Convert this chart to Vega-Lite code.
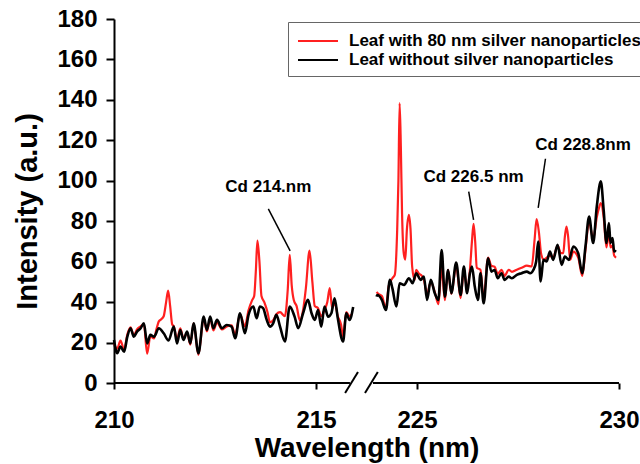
{
  "$schema": "https://vega.github.io/schema/vega-lite/v6.json",
  "width": 505,
  "height": 364,
  "autosize": {"type": "none"},
  "padding": {"left": 114, "top": 19, "right": 21, "bottom": 81},
  "background": "white",
  "config": {
    "view": {"stroke": null},
    "axis": {"grid": false, "labelFont": "Liberation Sans", "labelFontSize": 24, "labelFontWeight": "bold", "labelColor": "#000", "titleFont": "Liberation Sans", "titleFontWeight": "bold", "titleColor": "#000", "domainColor": "#000", "tickColor": "#000", "domainWidth": 2, "tickWidth": 2}
  },
  "datasets": {
    "spectra": [
      {"w": 210.00, "i": 19.5, "s": "Leaf with 80 nm silver nanoparticles", "part": "L"},
      {"w": 210.08, "i": 17.0, "s": "Leaf with 80 nm silver nanoparticles", "part": "L"},
      {"w": 210.16, "i": 21.0, "s": "Leaf with 80 nm silver nanoparticles", "part": "L"},
      {"w": 210.25, "i": 16.5, "s": "Leaf with 80 nm silver nanoparticles", "part": "L"},
      {"w": 210.33, "i": 24.0, "s": "Leaf with 80 nm silver nanoparticles", "part": "L"},
      {"w": 210.41, "i": 27.5, "s": "Leaf with 80 nm silver nanoparticles", "part": "L"},
      {"w": 210.49, "i": 23.5, "s": "Leaf with 80 nm silver nanoparticles", "part": "L"},
      {"w": 210.57, "i": 26.5, "s": "Leaf with 80 nm silver nanoparticles", "part": "L"},
      {"w": 210.66, "i": 28.0, "s": "Leaf with 80 nm silver nanoparticles", "part": "L"},
      {"w": 210.74, "i": 29.0, "s": "Leaf with 80 nm silver nanoparticles", "part": "L"},
      {"w": 210.82, "i": 14.5, "s": "Leaf with 80 nm silver nanoparticles", "part": "L"},
      {"w": 210.90, "i": 23.0, "s": "Leaf with 80 nm silver nanoparticles", "part": "L"},
      {"w": 210.99, "i": 22.0, "s": "Leaf with 80 nm silver nanoparticles", "part": "L"},
      {"w": 211.05, "i": 26.5, "s": "Leaf with 80 nm silver nanoparticles", "part": "L"},
      {"w": 211.11, "i": 30.5, "s": "Leaf with 80 nm silver nanoparticles", "part": "L"},
      {"w": 211.17, "i": 31.5, "s": "Leaf with 80 nm silver nanoparticles", "part": "L"},
      {"w": 211.23, "i": 33.0, "s": "Leaf with 80 nm silver nanoparticles", "part": "L"},
      {"w": 211.29, "i": 40.0, "s": "Leaf with 80 nm silver nanoparticles", "part": "L"},
      {"w": 211.34, "i": 45.7, "s": "Leaf with 80 nm silver nanoparticles", "part": "L"},
      {"w": 211.39, "i": 38.0, "s": "Leaf with 80 nm silver nanoparticles", "part": "L"},
      {"w": 211.44, "i": 29.0, "s": "Leaf with 80 nm silver nanoparticles", "part": "L"},
      {"w": 211.48, "i": 28.0, "s": "Leaf with 80 nm silver nanoparticles", "part": "L"},
      {"w": 211.56, "i": 21.5, "s": "Leaf with 80 nm silver nanoparticles", "part": "L"},
      {"w": 211.64, "i": 27.0, "s": "Leaf with 80 nm silver nanoparticles", "part": "L"},
      {"w": 211.72, "i": 22.0, "s": "Leaf with 80 nm silver nanoparticles", "part": "L"},
      {"w": 211.81, "i": 25.0, "s": "Leaf with 80 nm silver nanoparticles", "part": "L"},
      {"w": 211.89, "i": 19.0, "s": "Leaf with 80 nm silver nanoparticles", "part": "L"},
      {"w": 211.97, "i": 29.5, "s": "Leaf with 80 nm silver nanoparticles", "part": "L"},
      {"w": 212.09, "i": 14.0, "s": "Leaf with 80 nm silver nanoparticles", "part": "L"},
      {"w": 212.22, "i": 32.0, "s": "Leaf with 80 nm silver nanoparticles", "part": "L"},
      {"w": 212.30, "i": 25.5, "s": "Leaf with 80 nm silver nanoparticles", "part": "L"},
      {"w": 212.38, "i": 32.0, "s": "Leaf with 80 nm silver nanoparticles", "part": "L"},
      {"w": 212.46, "i": 26.0, "s": "Leaf with 80 nm silver nanoparticles", "part": "L"},
      {"w": 212.55, "i": 30.0, "s": "Leaf with 80 nm silver nanoparticles", "part": "L"},
      {"w": 212.67, "i": 26.5, "s": "Leaf with 80 nm silver nanoparticles", "part": "L"},
      {"w": 212.79, "i": 28.0, "s": "Leaf with 80 nm silver nanoparticles", "part": "L"},
      {"w": 212.91, "i": 28.5, "s": "Leaf with 80 nm silver nanoparticles", "part": "L"},
      {"w": 213.00, "i": 24.0, "s": "Leaf with 80 nm silver nanoparticles", "part": "L"},
      {"w": 213.12, "i": 34.0, "s": "Leaf with 80 nm silver nanoparticles", "part": "L"},
      {"w": 213.24, "i": 28.0, "s": "Leaf with 80 nm silver nanoparticles", "part": "L"},
      {"w": 213.33, "i": 36.0, "s": "Leaf with 80 nm silver nanoparticles", "part": "L"},
      {"w": 213.42, "i": 41.0, "s": "Leaf with 80 nm silver nanoparticles", "part": "L"},
      {"w": 213.47, "i": 43.0, "s": "Leaf with 80 nm silver nanoparticles", "part": "L"},
      {"w": 213.51, "i": 55.0, "s": "Leaf with 80 nm silver nanoparticles", "part": "L"},
      {"w": 213.55, "i": 70.4, "s": "Leaf with 80 nm silver nanoparticles", "part": "L"},
      {"w": 213.60, "i": 60.0, "s": "Leaf with 80 nm silver nanoparticles", "part": "L"},
      {"w": 213.65, "i": 43.0, "s": "Leaf with 80 nm silver nanoparticles", "part": "L"},
      {"w": 213.72, "i": 40.0, "s": "Leaf with 80 nm silver nanoparticles", "part": "L"},
      {"w": 213.80, "i": 35.0, "s": "Leaf with 80 nm silver nanoparticles", "part": "L"},
      {"w": 213.86, "i": 30.0, "s": "Leaf with 80 nm silver nanoparticles", "part": "L"},
      {"w": 213.94, "i": 31.0, "s": "Leaf with 80 nm silver nanoparticles", "part": "L"},
      {"w": 214.02, "i": 34.0, "s": "Leaf with 80 nm silver nanoparticles", "part": "L"},
      {"w": 214.11, "i": 35.0, "s": "Leaf with 80 nm silver nanoparticles", "part": "L"},
      {"w": 214.23, "i": 33.0, "s": "Leaf with 80 nm silver nanoparticles", "part": "L"},
      {"w": 214.30, "i": 46.0, "s": "Leaf with 80 nm silver nanoparticles", "part": "L"},
      {"w": 214.35, "i": 63.4, "s": "Leaf with 80 nm silver nanoparticles", "part": "L"},
      {"w": 214.40, "i": 48.0, "s": "Leaf with 80 nm silver nanoparticles", "part": "L"},
      {"w": 214.45, "i": 41.0, "s": "Leaf with 80 nm silver nanoparticles", "part": "L"},
      {"w": 214.52, "i": 38.0, "s": "Leaf with 80 nm silver nanoparticles", "part": "L"},
      {"w": 214.60, "i": 31.0, "s": "Leaf with 80 nm silver nanoparticles", "part": "L"},
      {"w": 214.68, "i": 36.0, "s": "Leaf with 80 nm silver nanoparticles", "part": "L"},
      {"w": 214.75, "i": 47.0, "s": "Leaf with 80 nm silver nanoparticles", "part": "L"},
      {"w": 214.84, "i": 65.5, "s": "Leaf with 80 nm silver nanoparticles", "part": "L"},
      {"w": 214.91, "i": 50.0, "s": "Leaf with 80 nm silver nanoparticles", "part": "L"},
      {"w": 214.97, "i": 38.0, "s": "Leaf with 80 nm silver nanoparticles", "part": "L"},
      {"w": 215.05, "i": 37.0, "s": "Leaf with 80 nm silver nanoparticles", "part": "L"},
      {"w": 215.13, "i": 33.0, "s": "Leaf with 80 nm silver nanoparticles", "part": "L"},
      {"w": 215.21, "i": 36.0, "s": "Leaf with 80 nm silver nanoparticles", "part": "L"},
      {"w": 215.28, "i": 40.0, "s": "Leaf with 80 nm silver nanoparticles", "part": "L"},
      {"w": 215.34, "i": 46.9, "s": "Leaf with 80 nm silver nanoparticles", "part": "L"},
      {"w": 215.40, "i": 37.0, "s": "Leaf with 80 nm silver nanoparticles", "part": "L"},
      {"w": 215.46, "i": 40.0, "s": "Leaf with 80 nm silver nanoparticles", "part": "L"},
      {"w": 215.54, "i": 33.0, "s": "Leaf with 80 nm silver nanoparticles", "part": "L"},
      {"w": 215.62, "i": 29.0, "s": "Leaf with 80 nm silver nanoparticles", "part": "L"},
      {"w": 215.67, "i": 23.0, "s": "Leaf with 80 nm silver nanoparticles", "part": "L"},
      {"w": 215.75, "i": 35.0, "s": "Leaf with 80 nm silver nanoparticles", "part": "L"},
      {"w": 215.83, "i": 33.0, "s": "Leaf with 80 nm silver nanoparticles", "part": "L"},
      {"w": 215.88, "i": 34.0, "s": "Leaf with 80 nm silver nanoparticles", "part": "L"},
      {"w": 223.97, "i": 45.0, "s": "Leaf with 80 nm silver nanoparticles", "part": "R"},
      {"w": 224.05, "i": 44.0, "s": "Leaf with 80 nm silver nanoparticles", "part": "R"},
      {"w": 224.13, "i": 43.0, "s": "Leaf with 80 nm silver nanoparticles", "part": "R"},
      {"w": 224.23, "i": 37.0, "s": "Leaf with 80 nm silver nanoparticles", "part": "R"},
      {"w": 224.30, "i": 48.0, "s": "Leaf with 80 nm silver nanoparticles", "part": "R"},
      {"w": 224.39, "i": 51.8, "s": "Leaf with 80 nm silver nanoparticles", "part": "R"},
      {"w": 224.45, "i": 53.5, "s": "Leaf with 80 nm silver nanoparticles", "part": "R"},
      {"w": 224.51, "i": 76.0, "s": "Leaf with 80 nm silver nanoparticles", "part": "R"},
      {"w": 224.54, "i": 100.0, "s": "Leaf with 80 nm silver nanoparticles", "part": "R"},
      {"w": 224.57, "i": 138.4, "s": "Leaf with 80 nm silver nanoparticles", "part": "R"},
      {"w": 224.60, "i": 117.0, "s": "Leaf with 80 nm silver nanoparticles", "part": "R"},
      {"w": 224.63, "i": 84.0, "s": "Leaf with 80 nm silver nanoparticles", "part": "R"},
      {"w": 224.67, "i": 64.5, "s": "Leaf with 80 nm silver nanoparticles", "part": "R"},
      {"w": 224.71, "i": 61.0, "s": "Leaf with 80 nm silver nanoparticles", "part": "R"},
      {"w": 224.75, "i": 76.0, "s": "Leaf with 80 nm silver nanoparticles", "part": "R"},
      {"w": 224.80, "i": 83.2, "s": "Leaf with 80 nm silver nanoparticles", "part": "R"},
      {"w": 224.84, "i": 76.0, "s": "Leaf with 80 nm silver nanoparticles", "part": "R"},
      {"w": 224.88, "i": 57.6, "s": "Leaf with 80 nm silver nanoparticles", "part": "R"},
      {"w": 224.94, "i": 51.0, "s": "Leaf with 80 nm silver nanoparticles", "part": "R"},
      {"w": 224.98, "i": 56.0, "s": "Leaf with 80 nm silver nanoparticles", "part": "R"},
      {"w": 225.05, "i": 54.0, "s": "Leaf with 80 nm silver nanoparticles", "part": "R"},
      {"w": 225.12, "i": 53.0, "s": "Leaf with 80 nm silver nanoparticles", "part": "R"},
      {"w": 225.17, "i": 51.0, "s": "Leaf with 80 nm silver nanoparticles", "part": "R"},
      {"w": 225.25, "i": 44.0, "s": "Leaf with 80 nm silver nanoparticles", "part": "R"},
      {"w": 225.34, "i": 50.0, "s": "Leaf with 80 nm silver nanoparticles", "part": "R"},
      {"w": 225.44, "i": 45.0, "s": "Leaf with 80 nm silver nanoparticles", "part": "R"},
      {"w": 225.53, "i": 39.0, "s": "Leaf with 80 nm silver nanoparticles", "part": "R"},
      {"w": 225.61, "i": 57.0, "s": "Leaf with 80 nm silver nanoparticles", "part": "R"},
      {"w": 225.69, "i": 41.0, "s": "Leaf with 80 nm silver nanoparticles", "part": "R"},
      {"w": 225.77, "i": 56.0, "s": "Leaf with 80 nm silver nanoparticles", "part": "R"},
      {"w": 225.85, "i": 44.0, "s": "Leaf with 80 nm silver nanoparticles", "part": "R"},
      {"w": 225.97, "i": 58.0, "s": "Leaf with 80 nm silver nanoparticles", "part": "R"},
      {"w": 226.08, "i": 42.0, "s": "Leaf with 80 nm silver nanoparticles", "part": "R"},
      {"w": 226.16, "i": 56.0, "s": "Leaf with 80 nm silver nanoparticles", "part": "R"},
      {"w": 226.24, "i": 47.0, "s": "Leaf with 80 nm silver nanoparticles", "part": "R"},
      {"w": 226.31, "i": 56.0, "s": "Leaf with 80 nm silver nanoparticles", "part": "R"},
      {"w": 226.36, "i": 70.0, "s": "Leaf with 80 nm silver nanoparticles", "part": "R"},
      {"w": 226.40, "i": 78.7, "s": "Leaf with 80 nm silver nanoparticles", "part": "R"},
      {"w": 226.44, "i": 70.0, "s": "Leaf with 80 nm silver nanoparticles", "part": "R"},
      {"w": 226.48, "i": 57.0, "s": "Leaf with 80 nm silver nanoparticles", "part": "R"},
      {"w": 226.57, "i": 56.0, "s": "Leaf with 80 nm silver nanoparticles", "part": "R"},
      {"w": 226.65, "i": 42.0, "s": "Leaf with 80 nm silver nanoparticles", "part": "R"},
      {"w": 226.76, "i": 62.0, "s": "Leaf with 80 nm silver nanoparticles", "part": "R"},
      {"w": 226.84, "i": 58.0, "s": "Leaf with 80 nm silver nanoparticles", "part": "R"},
      {"w": 226.92, "i": 57.5, "s": "Leaf with 80 nm silver nanoparticles", "part": "R"},
      {"w": 227.00, "i": 54.0, "s": "Leaf with 80 nm silver nanoparticles", "part": "R"},
      {"w": 227.09, "i": 56.0, "s": "Leaf with 80 nm silver nanoparticles", "part": "R"},
      {"w": 227.17, "i": 53.0, "s": "Leaf with 80 nm silver nanoparticles", "part": "R"},
      {"w": 227.27, "i": 56.0, "s": "Leaf with 80 nm silver nanoparticles", "part": "R"},
      {"w": 227.35, "i": 55.0, "s": "Leaf with 80 nm silver nanoparticles", "part": "R"},
      {"w": 227.47, "i": 56.0, "s": "Leaf with 80 nm silver nanoparticles", "part": "R"},
      {"w": 227.59, "i": 57.0, "s": "Leaf with 80 nm silver nanoparticles", "part": "R"},
      {"w": 227.72, "i": 58.0, "s": "Leaf with 80 nm silver nanoparticles", "part": "R"},
      {"w": 227.84, "i": 57.6, "s": "Leaf with 80 nm silver nanoparticles", "part": "R"},
      {"w": 227.91, "i": 70.8, "s": "Leaf with 80 nm silver nanoparticles", "part": "R"},
      {"w": 227.96, "i": 81.0, "s": "Leaf with 80 nm silver nanoparticles", "part": "R"},
      {"w": 228.02, "i": 74.1, "s": "Leaf with 80 nm silver nanoparticles", "part": "R"},
      {"w": 228.07, "i": 64.2, "s": "Leaf with 80 nm silver nanoparticles", "part": "R"},
      {"w": 228.14, "i": 60.9, "s": "Leaf with 80 nm silver nanoparticles", "part": "R"},
      {"w": 228.21, "i": 62.0, "s": "Leaf with 80 nm silver nanoparticles", "part": "R"},
      {"w": 228.29, "i": 63.0, "s": "Leaf with 80 nm silver nanoparticles", "part": "R"},
      {"w": 228.37, "i": 62.0, "s": "Leaf with 80 nm silver nanoparticles", "part": "R"},
      {"w": 228.48, "i": 68.0, "s": "Leaf with 80 nm silver nanoparticles", "part": "R"},
      {"w": 228.56, "i": 64.2, "s": "Leaf with 80 nm silver nanoparticles", "part": "R"},
      {"w": 228.62, "i": 64.2, "s": "Leaf with 80 nm silver nanoparticles", "part": "R"},
      {"w": 228.66, "i": 72.4, "s": "Leaf with 80 nm silver nanoparticles", "part": "R"},
      {"w": 228.70, "i": 77.4, "s": "Leaf with 80 nm silver nanoparticles", "part": "R"},
      {"w": 228.74, "i": 72.5, "s": "Leaf with 80 nm silver nanoparticles", "part": "R"},
      {"w": 228.79, "i": 61.0, "s": "Leaf with 80 nm silver nanoparticles", "part": "R"},
      {"w": 228.87, "i": 65.0, "s": "Leaf with 80 nm silver nanoparticles", "part": "R"},
      {"w": 228.99, "i": 62.0, "s": "Leaf with 80 nm silver nanoparticles", "part": "R"},
      {"w": 229.09, "i": 53.0, "s": "Leaf with 80 nm silver nanoparticles", "part": "R"},
      {"w": 229.17, "i": 66.0, "s": "Leaf with 80 nm silver nanoparticles", "part": "R"},
      {"w": 229.26, "i": 80.0, "s": "Leaf with 80 nm silver nanoparticles", "part": "R"},
      {"w": 229.36, "i": 71.0, "s": "Leaf with 80 nm silver nanoparticles", "part": "R"},
      {"w": 229.45, "i": 82.0, "s": "Leaf with 80 nm silver nanoparticles", "part": "R"},
      {"w": 229.51, "i": 87.0, "s": "Leaf with 80 nm silver nanoparticles", "part": "R"},
      {"w": 229.55, "i": 89.0, "s": "Leaf with 80 nm silver nanoparticles", "part": "R"},
      {"w": 229.62, "i": 82.0, "s": "Leaf with 80 nm silver nanoparticles", "part": "R"},
      {"w": 229.69, "i": 67.0, "s": "Leaf with 80 nm silver nanoparticles", "part": "R"},
      {"w": 229.75, "i": 75.0, "s": "Leaf with 80 nm silver nanoparticles", "part": "R"},
      {"w": 229.79, "i": 67.0, "s": "Leaf with 80 nm silver nanoparticles", "part": "R"},
      {"w": 229.84, "i": 68.0, "s": "Leaf with 80 nm silver nanoparticles", "part": "R"},
      {"w": 229.88, "i": 63.0, "s": "Leaf with 80 nm silver nanoparticles", "part": "R"},
      {"w": 229.93, "i": 62.0, "s": "Leaf with 80 nm silver nanoparticles", "part": "R"},

      {"w": 210.00, "i": 21.3, "s": "Leaf without silver nanoparticles", "part": "L"},
      {"w": 210.08, "i": 14.7, "s": "Leaf without silver nanoparticles", "part": "L"},
      {"w": 210.16, "i": 18.0, "s": "Leaf without silver nanoparticles", "part": "L"},
      {"w": 210.25, "i": 15.5, "s": "Leaf without silver nanoparticles", "part": "L"},
      {"w": 210.33, "i": 22.9, "s": "Leaf without silver nanoparticles", "part": "L"},
      {"w": 210.41, "i": 27.1, "s": "Leaf without silver nanoparticles", "part": "L"},
      {"w": 210.49, "i": 22.9, "s": "Leaf without silver nanoparticles", "part": "L"},
      {"w": 210.57, "i": 25.4, "s": "Leaf without silver nanoparticles", "part": "L"},
      {"w": 210.66, "i": 27.1, "s": "Leaf without silver nanoparticles", "part": "L"},
      {"w": 210.74, "i": 29.5, "s": "Leaf without silver nanoparticles", "part": "L"},
      {"w": 210.82, "i": 19.6, "s": "Leaf without silver nanoparticles", "part": "L"},
      {"w": 210.90, "i": 23.8, "s": "Leaf without silver nanoparticles", "part": "L"},
      {"w": 210.99, "i": 22.9, "s": "Leaf without silver nanoparticles", "part": "L"},
      {"w": 211.11, "i": 27.1, "s": "Leaf without silver nanoparticles", "part": "L"},
      {"w": 211.23, "i": 24.6, "s": "Leaf without silver nanoparticles", "part": "L"},
      {"w": 211.35, "i": 21.0, "s": "Leaf without silver nanoparticles", "part": "L"},
      {"w": 211.48, "i": 27.9, "s": "Leaf without silver nanoparticles", "part": "L"},
      {"w": 211.56, "i": 19.6, "s": "Leaf without silver nanoparticles", "part": "L"},
      {"w": 211.64, "i": 26.2, "s": "Leaf without silver nanoparticles", "part": "L"},
      {"w": 211.72, "i": 21.3, "s": "Leaf without silver nanoparticles", "part": "L"},
      {"w": 211.81, "i": 25.4, "s": "Leaf without silver nanoparticles", "part": "L"},
      {"w": 211.89, "i": 19.6, "s": "Leaf without silver nanoparticles", "part": "L"},
      {"w": 211.97, "i": 29.5, "s": "Leaf without silver nanoparticles", "part": "L"},
      {"w": 212.09, "i": 14.7, "s": "Leaf without silver nanoparticles", "part": "L"},
      {"w": 212.22, "i": 32.8, "s": "Leaf without silver nanoparticles", "part": "L"},
      {"w": 212.30, "i": 26.2, "s": "Leaf without silver nanoparticles", "part": "L"},
      {"w": 212.38, "i": 32.8, "s": "Leaf without silver nanoparticles", "part": "L"},
      {"w": 212.46, "i": 27.1, "s": "Leaf without silver nanoparticles", "part": "L"},
      {"w": 212.55, "i": 31.2, "s": "Leaf without silver nanoparticles", "part": "L"},
      {"w": 212.67, "i": 27.1, "s": "Leaf without silver nanoparticles", "part": "L"},
      {"w": 212.79, "i": 28.7, "s": "Leaf without silver nanoparticles", "part": "L"},
      {"w": 212.91, "i": 27.9, "s": "Leaf without silver nanoparticles", "part": "L"},
      {"w": 213.00, "i": 22.1, "s": "Leaf without silver nanoparticles", "part": "L"},
      {"w": 213.12, "i": 34.5, "s": "Leaf without silver nanoparticles", "part": "L"},
      {"w": 213.24, "i": 24.6, "s": "Leaf without silver nanoparticles", "part": "L"},
      {"w": 213.33, "i": 33.7, "s": "Leaf without silver nanoparticles", "part": "L"},
      {"w": 213.45, "i": 37.8, "s": "Leaf without silver nanoparticles", "part": "L"},
      {"w": 213.53, "i": 32.0, "s": "Leaf without silver nanoparticles", "part": "L"},
      {"w": 213.61, "i": 37.8, "s": "Leaf without silver nanoparticles", "part": "L"},
      {"w": 213.69, "i": 37.0, "s": "Leaf without silver nanoparticles", "part": "L"},
      {"w": 213.78, "i": 31.2, "s": "Leaf without silver nanoparticles", "part": "L"},
      {"w": 213.86, "i": 27.9, "s": "Leaf without silver nanoparticles", "part": "L"},
      {"w": 213.94, "i": 29.5, "s": "Leaf without silver nanoparticles", "part": "L"},
      {"w": 214.02, "i": 33.7, "s": "Leaf without silver nanoparticles", "part": "L"},
      {"w": 214.11, "i": 27.9, "s": "Leaf without silver nanoparticles", "part": "L"},
      {"w": 214.23, "i": 20.5, "s": "Leaf without silver nanoparticles", "part": "L"},
      {"w": 214.35, "i": 37.8, "s": "Leaf without silver nanoparticles", "part": "L"},
      {"w": 214.47, "i": 32.8, "s": "Leaf without silver nanoparticles", "part": "L"},
      {"w": 214.56, "i": 27.1, "s": "Leaf without silver nanoparticles", "part": "L"},
      {"w": 214.68, "i": 34.5, "s": "Leaf without silver nanoparticles", "part": "L"},
      {"w": 214.80, "i": 41.1, "s": "Leaf without silver nanoparticles", "part": "L"},
      {"w": 214.89, "i": 34.5, "s": "Leaf without silver nanoparticles", "part": "L"},
      {"w": 214.97, "i": 31.2, "s": "Leaf without silver nanoparticles", "part": "L"},
      {"w": 215.05, "i": 36.1, "s": "Leaf without silver nanoparticles", "part": "L"},
      {"w": 215.13, "i": 27.9, "s": "Leaf without silver nanoparticles", "part": "L"},
      {"w": 215.21, "i": 37.8, "s": "Leaf without silver nanoparticles", "part": "L"},
      {"w": 215.30, "i": 32.8, "s": "Leaf without silver nanoparticles", "part": "L"},
      {"w": 215.38, "i": 34.5, "s": "Leaf without silver nanoparticles", "part": "L"},
      {"w": 215.46, "i": 41.9, "s": "Leaf without silver nanoparticles", "part": "L"},
      {"w": 215.54, "i": 32.0, "s": "Leaf without silver nanoparticles", "part": "L"},
      {"w": 215.67, "i": 20.5, "s": "Leaf without silver nanoparticles", "part": "L"},
      {"w": 215.75, "i": 34.5, "s": "Leaf without silver nanoparticles", "part": "L"},
      {"w": 215.83, "i": 31.2, "s": "Leaf without silver nanoparticles", "part": "L"},
      {"w": 215.92, "i": 37.6, "s": "Leaf without silver nanoparticles", "part": "L"},
      {"w": 223.97, "i": 42.7, "s": "Leaf without silver nanoparticles", "part": "R"},
      {"w": 224.02, "i": 43.5, "s": "Leaf without silver nanoparticles", "part": "R"},
      {"w": 224.13, "i": 41.1, "s": "Leaf without silver nanoparticles", "part": "R"},
      {"w": 224.23, "i": 36.1, "s": "Leaf without silver nanoparticles", "part": "R"},
      {"w": 224.33, "i": 51.0, "s": "Leaf without silver nanoparticles", "part": "R"},
      {"w": 224.39, "i": 46.9, "s": "Leaf without silver nanoparticles", "part": "R"},
      {"w": 224.49, "i": 37.8, "s": "Leaf without silver nanoparticles", "part": "R"},
      {"w": 224.57, "i": 49.3, "s": "Leaf without silver nanoparticles", "part": "R"},
      {"w": 224.68, "i": 48.5, "s": "Leaf without silver nanoparticles", "part": "R"},
      {"w": 224.80, "i": 51.8, "s": "Leaf without silver nanoparticles", "part": "R"},
      {"w": 224.89, "i": 49.3, "s": "Leaf without silver nanoparticles", "part": "R"},
      {"w": 224.98, "i": 54.3, "s": "Leaf without silver nanoparticles", "part": "R"},
      {"w": 225.09, "i": 51.0, "s": "Leaf without silver nanoparticles", "part": "R"},
      {"w": 225.17, "i": 52.6, "s": "Leaf without silver nanoparticles", "part": "R"},
      {"w": 225.25, "i": 41.1, "s": "Leaf without silver nanoparticles", "part": "R"},
      {"w": 225.34, "i": 51.0, "s": "Leaf without silver nanoparticles", "part": "R"},
      {"w": 225.44, "i": 44.4, "s": "Leaf without silver nanoparticles", "part": "R"},
      {"w": 225.53, "i": 41.1, "s": "Leaf without silver nanoparticles", "part": "R"},
      {"w": 225.61, "i": 65.8, "s": "Leaf without silver nanoparticles", "part": "R"},
      {"w": 225.69, "i": 42.7, "s": "Leaf without silver nanoparticles", "part": "R"},
      {"w": 225.77, "i": 55.9, "s": "Leaf without silver nanoparticles", "part": "R"},
      {"w": 225.85, "i": 44.4, "s": "Leaf without silver nanoparticles", "part": "R"},
      {"w": 225.97, "i": 59.6, "s": "Leaf without silver nanoparticles", "part": "R"},
      {"w": 226.08, "i": 43.5, "s": "Leaf without silver nanoparticles", "part": "R"},
      {"w": 226.16, "i": 57.6, "s": "Leaf without silver nanoparticles", "part": "R"},
      {"w": 226.24, "i": 44.4, "s": "Leaf without silver nanoparticles", "part": "R"},
      {"w": 226.31, "i": 54.3, "s": "Leaf without silver nanoparticles", "part": "R"},
      {"w": 226.36, "i": 57.6, "s": "Leaf without silver nanoparticles", "part": "R"},
      {"w": 226.43, "i": 47.7, "s": "Leaf without silver nanoparticles", "part": "R"},
      {"w": 226.51, "i": 41.1, "s": "Leaf without silver nanoparticles", "part": "R"},
      {"w": 226.57, "i": 54.3, "s": "Leaf without silver nanoparticles", "part": "R"},
      {"w": 226.65, "i": 39.4, "s": "Leaf without silver nanoparticles", "part": "R"},
      {"w": 226.76, "i": 61.7, "s": "Leaf without silver nanoparticles", "part": "R"},
      {"w": 226.84, "i": 55.1, "s": "Leaf without silver nanoparticles", "part": "R"},
      {"w": 226.92, "i": 55.9, "s": "Leaf without silver nanoparticles", "part": "R"},
      {"w": 227.00, "i": 51.8, "s": "Leaf without silver nanoparticles", "part": "R"},
      {"w": 227.09, "i": 54.3, "s": "Leaf without silver nanoparticles", "part": "R"},
      {"w": 227.17, "i": 51.0, "s": "Leaf without silver nanoparticles", "part": "R"},
      {"w": 227.27, "i": 52.6, "s": "Leaf without silver nanoparticles", "part": "R"},
      {"w": 227.35, "i": 51.8, "s": "Leaf without silver nanoparticles", "part": "R"},
      {"w": 227.47, "i": 53.5, "s": "Leaf without silver nanoparticles", "part": "R"},
      {"w": 227.59, "i": 54.3, "s": "Leaf without silver nanoparticles", "part": "R"},
      {"w": 227.72, "i": 55.1, "s": "Leaf without silver nanoparticles", "part": "R"},
      {"w": 227.80, "i": 54.3, "s": "Leaf without silver nanoparticles", "part": "R"},
      {"w": 227.88, "i": 55.9, "s": "Leaf without silver nanoparticles", "part": "R"},
      {"w": 227.95, "i": 60.1, "s": "Leaf without silver nanoparticles", "part": "R"},
      {"w": 228.00, "i": 70.0, "s": "Leaf without silver nanoparticles", "part": "R"},
      {"w": 228.06, "i": 50.2, "s": "Leaf without silver nanoparticles", "part": "R"},
      {"w": 228.13, "i": 60.9, "s": "Leaf without silver nanoparticles", "part": "R"},
      {"w": 228.21, "i": 60.1, "s": "Leaf without silver nanoparticles", "part": "R"},
      {"w": 228.29, "i": 65.0, "s": "Leaf without silver nanoparticles", "part": "R"},
      {"w": 228.37, "i": 60.9, "s": "Leaf without silver nanoparticles", "part": "R"},
      {"w": 228.48, "i": 68.3, "s": "Leaf without silver nanoparticles", "part": "R"},
      {"w": 228.58, "i": 58.4, "s": "Leaf without silver nanoparticles", "part": "R"},
      {"w": 228.66, "i": 62.5, "s": "Leaf without silver nanoparticles", "part": "R"},
      {"w": 228.76, "i": 60.9, "s": "Leaf without silver nanoparticles", "part": "R"},
      {"w": 228.87, "i": 67.5, "s": "Leaf without silver nanoparticles", "part": "R"},
      {"w": 228.99, "i": 64.2, "s": "Leaf without silver nanoparticles", "part": "R"},
      {"w": 229.09, "i": 54.3, "s": "Leaf without silver nanoparticles", "part": "R"},
      {"w": 229.17, "i": 67.5, "s": "Leaf without silver nanoparticles", "part": "R"},
      {"w": 229.26, "i": 82.3, "s": "Leaf without silver nanoparticles", "part": "R"},
      {"w": 229.36, "i": 69.2, "s": "Leaf without silver nanoparticles", "part": "R"},
      {"w": 229.45, "i": 87.3, "s": "Leaf without silver nanoparticles", "part": "R"},
      {"w": 229.55, "i": 99.7, "s": "Leaf without silver nanoparticles", "part": "R"},
      {"w": 229.62, "i": 85.6, "s": "Leaf without silver nanoparticles", "part": "R"},
      {"w": 229.69, "i": 69.2, "s": "Leaf without silver nanoparticles", "part": "R"},
      {"w": 229.75, "i": 79.1, "s": "Leaf without silver nanoparticles", "part": "R"},
      {"w": 229.79, "i": 69.2, "s": "Leaf without silver nanoparticles", "part": "R"},
      {"w": 229.84, "i": 71.7, "s": "Leaf without silver nanoparticles", "part": "R"},
      {"w": 229.88, "i": 65.0, "s": "Leaf without silver nanoparticles", "part": "R"},
      {"w": 229.92, "i": 65.8, "s": "Leaf without silver nanoparticles", "part": "R"}
    ],
    "axisline": [
      {"w": 210, "i": 0, "w2": 215.84, "i2": 0},
      {"w": 222.57, "i": 0, "w2": 230, "i2": 0},
      {"w": 215.72, "i": -4.9, "w2": 216.63, "i2": 5.4},
      {"w": 219.41, "i": -4.9, "w2": 224.03, "i2": 5.4}
    ],
    "leaders": [
      {"w": 213.82, "i": 86.1, "w2": 214.36, "i2": 65.3},
      {"w": 226.28, "i": 94.6, "w2": 226.40, "i2": 80.7},
      {"w": 228.18, "i": 110.9, "w2": 228.00, "i2": 86.6}
    ],
    "labels": [
      {"w": 213.82, "i": 97.0, "t": "Cd 214.nm"},
      {"w": 226.40, "i": 102.0, "t": "Cd 226.5 nm"},
      {"w": 229.11, "i": 117.8, "t": "Cd 228.8nm"}
    ]
  },
  "encoding": {
    "x": {
      "field": "w", "type": "quantitative",
      "scale": {"domain": [210, 216, 224, 230], "range": [0, 242.4, 262.6, 505], "nice": false, "zero": false},
      "axis": {"title": "Wavelength (nm)", "values": [210, 215, 225, 230], "format": "d", "domain": false, "tickSize": 6, "labelPadding": 19, "titleFontSize": 28, "titlePadding": 2, "labelFlush": false}
    },
    "y": {
      "field": "i", "type": "quantitative",
      "scale": {"domain": [0, 180], "nice": false, "zero": false},
      "axis": {"title": "Intensity (a.u.)", "values": [0, 20, 40, 60, 80, 100, 120, 140, 160, 180], "tickSize": 8, "labelPadding": 9, "titleFontSize": 29, "titlePadding": 14, "titleY": 192}
    }
  },
  "layer": [
    {
      "data": {"name": "spectra"},
      "transform": [{"filter": "datum.s === 'Leaf with 80 nm silver nanoparticles'"}],
      "mark": {"type": "line", "strokeWidth": 2.2, "interpolate": "monotone"},
      "encoding": {
        "detail": {"field": "part"},
        "color": {
          "field": "s", "type": "nominal",
          "scale": {"domain": ["Leaf with 80 nm silver nanoparticles", "Leaf without silver nanoparticles"], "range": ["#ff2020", "#000000"]},
          "legend": {"orient": "none", "legendX": 174, "legendY": 3, "title": null, "symbolType": "M-2,0H2", "symbolSize": 400, "symbolStrokeWidth": 2, "symbolOffset": 11, "labelOffset": 20, "labelFont": "Liberation Sans", "labelFontSize": 17, "labelFontWeight": "bold", "labelColor": "#000", "padding": 8, "strokeColor": "#666666", "fillColor": "white", "rowPadding": 0, "labelLimit": 400}
        }
      }
    },
    {
      "data": {"name": "spectra"},
      "transform": [{"filter": "datum.s === 'Leaf without silver nanoparticles'"}],
      "mark": {"type": "line", "strokeWidth": 2.6, "interpolate": "monotone"},
      "encoding": {
        "detail": {"field": "part"},
        "color": {"field": "s", "type": "nominal"}
      }
    },
    {
      "data": {"name": "axisline"},
      "mark": {"type": "rule", "color": "#000", "strokeWidth": 2},
      "encoding": {"x2": {"field": "w2"}, "y2": {"field": "i2"}}
    },
    {
      "data": {"name": "leaders"},
      "mark": {"type": "rule", "color": "#000", "strokeWidth": 1.5},
      "encoding": {"x2": {"field": "w2"}, "y2": {"field": "i2"}}
    },
    {
      "data": {"name": "labels"},
      "mark": {"type": "text", "font": "Liberation Sans", "fontSize": 17, "fontWeight": "bold", "color": "#000", "align": "center", "baseline": "middle"},
      "encoding": {"text": {"field": "t"}}
    }
  ]
}
